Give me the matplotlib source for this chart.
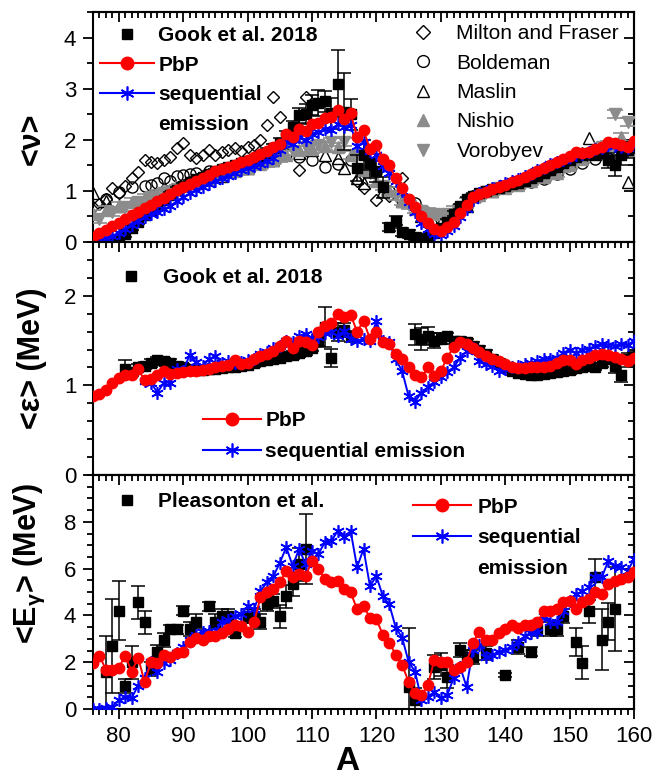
import matplotlib
matplotlib.use('Agg')
import matplotlib.pyplot as plt
from matplotlib.ticker import MultipleLocator, FixedLocator
from matplotlib.lines import Line2D
import numpy as np

plt.rcParams['font.family'] = ['Liberation Sans', 'DejaVu Sans']
plt.rcParams['mathtext.fontset'] = 'custom'
plt.rcParams['mathtext.rm'] = 'Liberation Sans'
plt.rcParams['mathtext.bf'] = 'Liberation Sans:bold'

# ---------------- data ----------------
A = np.arange(76, 161)          # mass number for calculations

# panel 1 : <nu>
pbp_nu = [0.10, 0.17, 0.24, 0.31, 0.38, 0.45, 0.52, 0.59, 0.66, 0.73,
          0.80, 0.87, 0.94, 1.01, 1.08, 1.14, 1.20, 1.26, 1.32, 1.38,
          1.43, 1.47, 1.51, 1.56, 1.61, 1.66, 1.72, 1.78, 1.85, 1.92,
          2.12, 2.05, 2.22, 2.18, 2.30, 2.32, 2.42, 2.44, 2.58, 2.40,
          2.52, 2.05, 2.19, 1.82, 1.90, 1.62, 1.50, 1.25, 1.05, 0.85,
          0.68, 0.50, 0.38, 0.25, 0.22, 0.30, 0.40, 0.56, 0.72, 0.88,
          0.93, 0.98, 1.03, 1.08, 1.12, 1.17, 1.21, 1.27, 1.33, 1.38,
          1.44, 1.50, 1.56, 1.62, 1.68, 1.76, 1.74, 1.77, 1.82, 1.86,
          1.95, 1.93, 1.90, 1.86, 1.98]
seq_nu = [0.00, 0.04, 0.08, 0.12, 0.18, 0.26, 0.34, 0.42, 0.48, 0.54,
          0.59, 0.64, 0.70, 0.80, 0.88, 0.95, 1.02, 1.08, 1.14, 1.20,
          1.25, 1.30, 1.35, 1.40, 1.44, 1.48, 1.53, 1.58, 1.64, 1.80,
          1.95, 1.92, 2.05, 2.00, 2.12, 2.15, 2.22, 2.20, 2.30, 2.25,
          2.28, 1.88, 1.95, 1.78, 1.70, 1.48, 1.35, 1.20, 1.00, 0.78,
          0.58, 0.38, 0.25, 0.16, 0.14, 0.22, 0.32, 0.48, 0.64, 0.82,
          0.95, 1.00, 1.06, 1.10, 1.15, 1.20, 1.24, 1.29, 1.34, 1.40,
          1.45, 1.52, 1.56, 1.60, 1.66, 1.70, 1.72, 1.76, 1.82, 1.84,
          1.90, 1.88, 1.85, 1.84, 1.95]

gook_A = np.arange(78, 161)
gook_nu = [0.00, 0.00, 0.05, 0.15, 0.28, 0.40, 0.52, 0.62, 0.72, 0.82,
           0.92, 1.02, 1.10, 1.17, 1.23, 1.28, 1.33, 1.38, 1.42, 1.46,
           1.50, 1.54, 1.58, 1.63, 1.68, 1.75, 1.83, 1.93, 2.08, 2.25,
           2.48, 2.50, 2.68, 2.72, 2.75, 2.52, 3.10, 2.55, 2.50, 1.45,
           1.70, 1.55, 1.38, 1.07, 0.30, 0.42, 0.20, 0.15, 0.10, 0.08,
           0.10, 0.18, 0.28, 0.40, 0.55, 0.70, 0.84, 0.90, 0.95, 0.99,
           1.03, 1.06, 1.10, 1.13, 1.16, 1.20, 1.25, 1.30, 1.35, 1.41,
           1.47, 1.54, 1.61, 1.67, 1.71, 1.74, 1.70, 1.75, 1.60, 1.50,
           1.70, 1.80, 1.85]
gook_nu_err = ([0.05] * 25 + [0.08, 0.08, 0.10, 0.10, 0.12,
               0.15, 0.20, 0.20, 0.25, 0.20, 0.30, 0.65, 0.75, 0.30, 0.25,
               0.30, 0.30, 0.20, 0.20, 0.08, 0.08, 0.08, 0.08, 0.08, 0.08]
               + [0.05] * 25 + [0.08, 0.10, 0.10, 0.15, 0.20, 0.20, 0.15, 0.10])

milton_A = [76, 77, 78, 79, 80, 81, 82, 83, 84, 85, 86, 87, 88, 89, 90, 91, 92, 93, 94, 95,
            96, 97, 98, 99, 100, 101, 102, 103, 104, 105, 108, 109, 117, 118, 120, 122, 124]
milton_nu = [0.68, 0.75, 0.85, 1.05, 0.95, 1.10, 1.25, 1.37, 1.60, 1.57,
             1.54, 1.60, 1.66, 1.84, 1.93, 1.70, 1.64, 1.70, 1.80, 1.70,
             1.76, 1.80, 1.84, 1.78, 1.86, 1.90, 2.00, 2.28, 2.84, 2.45,
             1.40, 2.84, 1.20, 1.05, 0.82, 0.90, 1.25]

boldeman_A = [78, 80, 82, 84, 85, 86, 87, 88, 89, 90, 91, 92, 94, 96, 98, 100, 102, 104, 106, 108,
              110, 112, 114, 116, 118, 120, 122, 124, 126, 128, 130, 132, 134, 136, 138, 140,
              142, 144, 146, 148, 150, 152, 154, 156]
boldeman_nu = [0.85, 0.98, 1.07, 1.10, 1.11, 1.15, 1.25, 1.20, 1.30, 1.31,
               1.34, 1.35, 1.38, 1.42, 1.47, 1.52, 1.58, 1.65, 1.72, 1.66,
               1.60, 1.47, 1.52, 1.60, 1.40, 1.37, 1.00, 0.82, 0.76, 0.55,
               0.45, 0.55, 0.70, 0.90, 1.00, 1.07, 1.12, 1.17, 1.24, 1.33,
               1.42, 1.55, 1.62, 1.65]

maslin_A = [76, 78, 80, 84, 88, 92, 96, 100, 104, 108, 110, 112, 114, 115, 117, 118, 119, 121,
            124, 127, 130, 134, 138, 142, 146, 150, 152, 153, 155, 157, 159]
maslin_nu = [0.95, 0.80, 0.70, 0.85, 1.00, 1.15, 1.30, 1.45, 1.60, 1.75,
             1.80, 1.70, 1.64, 1.45, 1.25, 1.15, 1.40, 1.00, 0.80, 0.50,
             0.40, 0.70, 1.00, 1.15, 1.30, 1.55, 1.75, 2.03, 1.85, 1.90, 1.17]

nishio_A = np.arange(76, 161, 2)
nishio_nu = [0.55, 0.62, 0.70, 0.78, 0.86, 0.94, 1.02, 1.10, 1.17, 1.24,
             1.32, 1.38, 1.45, 1.52, 1.60, 1.70, 1.80, 1.82, 1.88, 1.85,
             1.70, 1.40, 1.20, 1.00, 0.80, 0.65, 0.58, 0.55, 0.62, 0.78,
             0.92, 1.00, 1.06, 1.12, 1.20, 1.28, 1.35, 1.50, 1.62, 1.75,
             1.90, 2.05, 1.80]

vorobyev_A = np.arange(77, 160, 2)
vorobyev_nu = [0.45, 0.58, 0.68, 0.78, 0.88, 0.96, 1.04, 1.12, 1.20, 1.27,
               1.33, 1.40, 1.48, 1.55, 1.65, 1.78, 1.85, 1.90, 1.95, 1.95,
               1.70, 1.35, 1.10, 0.90, 0.72, 0.60, 0.55, 0.55, 0.65, 0.85,
               0.98, 1.05, 1.10, 1.18, 1.25, 1.32, 1.45, 1.58, 1.70, 1.85,
               2.50, 2.35]

# panel 2 : <eps>
pbp_eps = [0.88, 0.90, 0.95, 1.03, 1.08, 1.12, 1.12, 1.18, 1.06, 1.07,
           1.12, 1.16, 1.13, 1.14, 1.15, 1.16, 1.16, 1.17, 1.18, 1.20,
           1.22, 1.23, 1.28, 1.24, 1.25, 1.30, 1.33, 1.35, 1.38, 1.44,
           1.50, 1.42, 1.50, 1.48, 1.45, 1.60, 1.66, 1.70, 1.80, 1.76,
           1.79, 1.60, 1.72, 1.52, 1.60, 1.48, 1.46, 1.35, 1.29, 1.20,
           1.12, 1.09, 1.20, 1.10, 1.16, 1.31, 1.43, 1.48, 1.46, 1.42,
           1.37, 1.33, 1.30, 1.27, 1.24, 1.21, 1.19, 1.19, 1.20, 1.21,
           1.21, 1.22, 1.25, 1.28, 1.28, 1.24, 1.28, 1.31, 1.34, 1.35,
           1.34, 1.32, 1.30, 1.27, 1.31]
seq_eps_A = np.arange(84, 161)
seq_eps = [1.05, 1.03, 0.92, 1.03, 1.03, 1.18, 1.16, 1.34, 1.26, 1.22,
           1.29, 1.33, 1.25, 1.27, 1.25, 1.26, 1.28, 1.30, 1.35, 1.37,
           1.42, 1.44, 1.50, 1.48, 1.55, 1.57, 1.52, 1.54, 1.58, 1.60,
           1.55, 1.61, 1.52, 1.50, 1.52, 1.50, 1.72, 1.50, 1.48, 1.29,
           1.16, 0.88, 0.82, 0.92, 0.98, 1.04, 1.09, 1.15, 1.20, 1.31,
           1.38, 1.42, 1.27, 1.24, 1.22, 1.16, 1.18, 1.20, 1.22, 1.24,
           1.25, 1.27, 1.29, 1.30, 1.31, 1.36, 1.40, 1.36, 1.40, 1.41,
           1.44, 1.46, 1.45, 1.44, 1.46, 1.45, 1.50]
gook_eps_A = np.r_[81:117, 126:161]
gook_eps = [1.18, 1.15, 1.20, 1.22, 1.25, 1.28, 1.27, 1.25, 1.22, 1.20,
            1.18, 1.17, 1.17, 1.18, 1.18, 1.19, 1.20, 1.21, 1.22, 1.23,
            1.25, 1.27, 1.28, 1.30, 1.31, 1.33, 1.34, 1.36, 1.38, 1.42,
            1.50, 1.65, 1.31, 1.60, 1.62, 1.55,
            1.57, 1.52, 1.55, 1.50, 1.52, 1.55, 1.50, 1.50, 1.48, 1.44,
            1.40, 1.35, 1.30, 1.25, 1.20, 1.16, 1.14, 1.13, 1.12, 1.12,
            1.13, 1.14, 1.15, 1.16, 1.17, 1.19, 1.20, 1.22, 1.21, 1.25,
            1.30, 1.22, 1.12, 1.30, 1.32]
gook_eps_err = ([0.10] + [0.04] * 29 + [0.06, 0.22, 0.10, 0.10, 0.08, 0.06]
                + [0.12, 0.12, 0.10, 0.08, 0.06] + [0.04] * 25 + [0.06, 0.08, 0.08, 0.06, 0.05])

# panel 3 : <E_gamma>
pbp_eg = [1.98, 2.28, 1.68, 1.65, 1.76, 2.28, 1.60, 2.20, 1.16, 2.00,
          1.98, 2.32, 2.24, 2.40, 2.45, 2.88, 3.05, 2.97, 3.10, 3.10,
          3.27, 3.40, 3.60, 3.53, 3.31, 3.70, 4.77, 4.99, 5.12, 5.42,
          5.89, 5.63, 5.76, 5.68, 6.32, 5.98, 5.55, 5.42, 5.46, 5.12,
          4.99, 4.26, 4.39, 3.91, 3.83, 3.18, 2.84, 2.32, 1.89, 1.16,
          0.69, 0.60, 1.03, 2.10, 2.00, 2.00, 1.68, 1.80, 2.00, 2.84,
          3.31, 2.97, 2.97, 3.27, 3.40, 3.60, 3.48, 3.60, 3.60, 3.74,
          4.17, 4.17, 4.26, 4.56, 4.60, 4.26, 4.56, 4.69, 4.99, 4.90,
          5.33, 5.46, 5.55, 5.63, 5.85]
seq_eg = [0.00, 0.00, 0.03, 0.10, 0.38, 0.52, 0.47, 1.00, 1.33, 2.02,
          1.60, 1.98, 2.10, 2.40, 2.67, 2.97, 3.18, 3.31, 3.35, 3.27,
          3.74, 3.80, 3.96, 4.04, 4.39, 4.26, 5.03, 5.42, 5.68, 6.24,
          6.92, 6.11, 6.84, 6.19, 6.75, 6.62, 7.14, 7.18, 7.61, 7.35,
          7.61, 6.06, 6.84, 5.25, 5.68, 4.82, 4.47, 3.48, 3.05, 2.02,
          1.60, 0.39, 0.52, 0.73, 0.47, 0.60, 1.33, 1.80, 0.95, 2.54,
          2.75, 2.24, 2.32, 2.45, 2.54, 2.67, 2.88, 3.10, 3.27, 3.31,
          3.96, 3.74, 3.74, 4.17, 4.60, 4.90, 5.03, 5.20, 5.63, 5.63,
          6.32, 6.11, 6.06, 5.89, 6.41]
pleas_A = [78, 79, 80, 81, 82, 83, 84, 85, 86, 87, 88, 89, 90, 91, 92, 94, 95, 96, 97, 98,
           100, 101, 102, 103, 104, 105, 106, 107, 108, 109, 125, 126, 129, 130, 131, 133,
           134, 135, 137, 140, 142, 144, 145, 147, 148, 149, 151, 152, 153, 154, 155, 156, 157]
pleas_eg = [1.60, 2.70, 4.20, 1.00, 2.00, 4.56, 3.70, 1.70, 2.45, 2.97,
            3.40, 3.40, 4.20, 3.40, 3.74, 4.39, 3.74, 3.96, 3.96, 3.27,
            3.96, 3.96, 3.74, 4.47, 4.60, 3.96, 4.82, 5.33, 6.19, 6.84,
            0.95, 0.40, 1.80, 1.90, 1.38, 2.54, 2.24, 2.24, 2.40, 1.46,
            2.67, 2.45, 3.40, 3.40, 3.40, 3.96, 2.88, 1.98, 4.17, 5.63,
            2.97, 3.74, 4.26]
pleas_err = [1.5, 2.0, 1.25, 0.3, 0.7, 0.7, 0.5, 0.3, 0.3, 0.3,
             0.2, 0.2, 0.2, 0.3, 0.3, 0.2, 0.3, 0.3, 0.3, 0.2,
             0.3, 0.3, 0.3, 0.3, 0.3, 0.5, 0.5, 0.5, 0.7, 1.5,
             2.5, 0.5, 0.5, 0.5, 0.5, 0.3, 0.3, 0.3, 0.3, 0.1,
             0.3, 0.2, 0.3, 0.3, 0.3, 0.3, 0.6, 0.7, 0.5, 0.8,
             1.3, 0.8, 1.8]

# ---------------- styles ----------------
RED = '#ff0000'
BLUE = '#0000ff'
GRAY = '#8c8c8c'
AST = (6, 2, 0)
pbp_kw = dict(color=RED, marker='o', ms=7.5, lw=1.4, zorder=7)
seq_kw = dict(color=BLUE, marker=AST, ms=9, mew=1.2, lw=1.4, zorder=6)
exp_kw = dict(fmt='s', color='k', ms=6.5, capsize=5, elinewidth=1.1, capthick=1.1, zorder=5)


def style_axes(ax, ymax, yticks, yminor, show_x):
    ax.set_xlim(76, 160)
    ax.set_ylim(0, ymax)
    ax.xaxis.set_major_locator(MultipleLocator(10))
    ax.xaxis.set_minor_locator(MultipleLocator(1))
    ax.yaxis.set_major_locator(FixedLocator(yticks))
    ax.yaxis.set_minor_locator(MultipleLocator(yminor))
    ax.tick_params(which='both', direction='out', top=False, right=False,
                   labelsize=16, width=1.3)
    ax.tick_params(which='major', length=7, pad=5)
    ax.tick_params(which='minor', length=4)
    if not show_x:
        ax.tick_params(axis='x', labelbottom=False)
    sx = ax.secondary_xaxis('top')
    sx.xaxis.set_major_locator(MultipleLocator(10))
    sx.xaxis.set_minor_locator(MultipleLocator(1))
    sx.tick_params(which='both', direction='in', labeltop=False, width=1.3)
    sx.tick_params(which='major', length=7)
    sx.tick_params(which='minor', length=4)
    sy = ax.secondary_yaxis('right')
    sy.yaxis.set_major_locator(FixedLocator(yticks))
    sy.yaxis.set_minor_locator(MultipleLocator(yminor))
    sy.tick_params(which='both', direction='in', labelright=False, width=1.3)
    sy.tick_params(which='major', length=7)
    sy.tick_params(which='minor', length=4)
    for sec in (sx, sy):
        for sp in sec.spines.values():
            sp.set_linewidth(1.5)
    for sp in ax.spines.values():
        sp.set_linewidth(1.5)


h_gook = Line2D([], [], marker='s', color='k', ls='none', ms=7)
h_pbp = Line2D([], [], color=RED, marker='o', ms=9, lw=1.5)
h_seq = Line2D([], [], color=BLUE, marker=AST, ms=10, mew=1.2, lw=1.5)
h_none = Line2D([], [], ls='none')
bold = {'weight': 'bold', 'size': 15}

fig = plt.figure(figsize=(6.57, 7.80), dpi=100)
ax1 = fig.add_axes([0.1416, 0.6897, 0.8234, 0.2949])
ax2 = fig.add_axes([0.1416, 0.3910, 0.8234, 0.2987])
ax3 = fig.add_axes([0.1416, 0.0910, 0.8234, 0.3000])

# ---- panel 1 ----
ax1.plot(milton_A, milton_nu, ls='none', marker='D', ms=6.5, mfc='none', mec='k', mew=1.0, zorder=2)
ax1.plot(boldeman_A, boldeman_nu, ls='none', marker='o', ms=8, mfc='none', mec='k', mew=1.0, zorder=2)
ax1.plot(maslin_A, maslin_nu, ls='none', marker='^', ms=8.5, mfc='none', mec='k', mew=1.0, zorder=2)
ax1.errorbar(nishio_A, nishio_nu, yerr=0.08, fmt='^', color=GRAY, ms=8.5, capsize=6,
             elinewidth=1, capthick=1.2, zorder=3)
ax1.errorbar(vorobyev_A, vorobyev_nu, yerr=0.08, fmt='v', color=GRAY, ms=8.5, capsize=6,
             elinewidth=1, capthick=1.2, zorder=3)
ax1.errorbar(gook_A, gook_nu, yerr=gook_nu_err, **exp_kw)
ax1.plot(A, seq_nu, **seq_kw)
ax1.plot(A, pbp_nu, **pbp_kw)
style_axes(ax1, 4.5, [0, 1, 2, 3, 4], 0.5, False)
ax1.set_ylabel('<ν>', fontsize=22, fontweight='bold')
ax1.yaxis.set_label_coords(-0.085, 0.45)

leg = ax1.legend([h_gook, h_pbp, h_seq, h_none],
                 ['Gook et al. 2018', 'PbP', 'sequential', 'emission'],
                 loc='upper left', bbox_to_anchor=(0.013, 0.938), frameon=False,
                 prop=bold, handlelength=2.6, handletextpad=0.2, labelspacing=0.5,
                 borderpad=0, borderaxespad=0)
ax1.add_artist(leg)
h_mf = Line2D([], [], marker='D', ls='none', ms=7, mfc='none', mec='k')
h_bo = Line2D([], [], marker='o', ls='none', ms=8.5, mfc='none', mec='k')
h_ma = Line2D([], [], marker='^', ls='none', ms=8.5, mfc='none', mec='k')
h_ni = Line2D([], [], marker='^', ls='none', ms=9, color=GRAY)
h_vo = Line2D([], [], marker='v', ls='none', ms=9, color=GRAY)
ax1.legend([h_mf, h_bo, h_ma, h_ni, h_vo],
           ['Milton and Fraser', 'Boldeman', 'Maslin', 'Nishio', 'Vorobyev'],
           loc='upper left', bbox_to_anchor=(0.591, 0.947), frameon=False,
           prop={'size': 15}, handlelength=1.0, handletextpad=1.1, labelspacing=0.5,
           borderpad=0, borderaxespad=0)

# ---- panel 2 ----
ax2.errorbar(gook_eps_A, gook_eps, yerr=gook_eps_err, **exp_kw)
ax2.plot(seq_eps_A, seq_eps, **seq_kw)
ax2.plot(A, pbp_eps, **pbp_kw)
style_axes(ax2, 2.6, [0, 1, 2], 0.2, False)
ax2.set_ylabel('<ε> (MeV)', fontsize=22, fontweight='bold')
ax2.yaxis.set_label_coords(-0.085, 0.5)
leg = ax2.legend([h_gook], ['Gook et al. 2018'], loc='upper left',
                 bbox_to_anchor=(0.021, 0.888), frameon=False, prop=bold,
                 handlelength=2.6, handletextpad=0.2, borderpad=0, borderaxespad=0)
ax2.add_artist(leg)
ax2.legend([h_pbp, h_seq], ['PbP', 'sequential emission'], loc='upper left',
           bbox_to_anchor=(0.203, 0.274), frameon=False, prop=bold,
           handlelength=2.8, handletextpad=0.2, labelspacing=0.58,
           borderpad=0, borderaxespad=0)

# ---- panel 3 ----
ax3.errorbar(pleas_A, pleas_eg, yerr=pleas_err, **exp_kw)
ax3.plot(A, seq_eg, **seq_kw)
ax3.plot(A, pbp_eg, **pbp_kw)
style_axes(ax3, 10, [0, 2, 4, 6, 8], 0.5, True)
ax3.set_ylabel(r'<E$_\mathbf{γ}$> (MeV)', fontsize=22, fontweight='bold')
ax3.yaxis.set_label_coords(-0.085, 0.62)
ax3.set_xlabel('A', fontsize=24, fontweight='bold')
ax3.xaxis.set_label_coords(0.47, -0.16)
leg = ax3.legend([h_gook], ['Pleasonton et al.'], loc='upper left',
                 bbox_to_anchor=(0.012, 0.927), frameon=False, prop=bold,
                 handlelength=2.6, handletextpad=0.2, borderpad=0, borderaxespad=0)
ax3.add_artist(leg)
ax3.legend([h_pbp, h_seq, h_none], ['PbP', 'sequential', 'emission'], loc='upper left',
           bbox_to_anchor=(0.591, 0.903), frameon=False, prop=bold,
           handlelength=2.8, handletextpad=0.3, labelspacing=0.55,
           borderpad=0, borderaxespad=0)

fig.savefig('out.png', dpi=100)
